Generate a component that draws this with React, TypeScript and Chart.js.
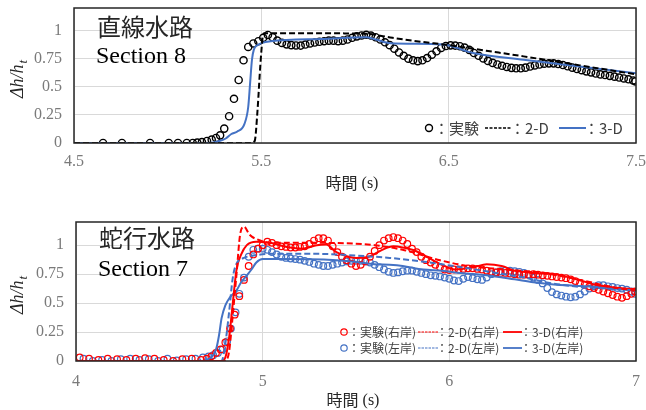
import React, { useEffect, useRef } from 'react';
import { Chart, registerables } from 'chart.js';
Chart.register(...registerables);

type P = [number, number];

// ---------- Top panel: 直線水路 Section 8 ----------
const topXTicks = [4.5, 5.5, 6.5, 7.5];
const yTicks = [0, 0.25, 0.5, 0.75, 1];

const topExperiment: P[] = [
  [4.655, 0], [4.756, 0], [4.906, 0], [5.006, 0], [5.055, 0], [5.102, 0], [5.134, 0], [5.158, 0.003], [5.183, 0.008],
  [5.21, 0.018], [5.235, 0.03], [5.258, 0.045], [5.28, 0.068], [5.302, 0.128], [5.328, 0.238], [5.354, 0.393],
  [5.379, 0.56], [5.405, 0.735], [5.43, 0.854], [5.457, 0.885], [5.484, 0.905], [5.51, 0.935], [5.535, 0.96],
  [5.56, 0.94], [5.585, 0.91], [5.61, 0.89], [5.635, 0.877], [5.66, 0.87], [5.685, 0.867], [5.71, 0.866],
  [5.735, 0.875], [5.76, 0.885], [5.785, 0.893], [5.81, 0.9], [5.835, 0.905], [5.86, 0.91], [5.885, 0.91],
  [5.91, 0.905], [5.935, 0.91], [5.96, 0.92], [5.985, 0.935], [6.01, 0.948], [6.035, 0.956], [6.06, 0.962],
  [6.085, 0.955], [6.11, 0.94], [6.135, 0.92], [6.16, 0.895], [6.185, 0.87], [6.21, 0.838], [6.235, 0.805],
  [6.26, 0.775], [6.285, 0.75], [6.31, 0.735], [6.335, 0.728], [6.36, 0.735], [6.385, 0.755], [6.41, 0.785],
  [6.435, 0.815], [6.46, 0.845], [6.485, 0.862], [6.51, 0.868], [6.535, 0.866], [6.56, 0.86], [6.585, 0.848],
  [6.61, 0.828], [6.635, 0.8], [6.66, 0.775], [6.685, 0.752], [6.71, 0.73], [6.735, 0.712], [6.76, 0.698],
  [6.785, 0.686], [6.81, 0.676], [6.835, 0.668], [6.86, 0.664], [6.885, 0.664], [6.91, 0.67], [6.935, 0.68],
  [6.96, 0.69], [6.985, 0.698], [7.01, 0.705], [7.035, 0.708], [7.06, 0.708], [7.085, 0.702], [7.11, 0.693],
  [7.135, 0.682], [7.16, 0.67], [7.185, 0.658], [7.21, 0.647], [7.235, 0.637], [7.26, 0.628], [7.285, 0.618],
  [7.31, 0.61], [7.335, 0.604], [7.36, 0.597], [7.385, 0.59], [7.41, 0.582], [7.435, 0.574], [7.46, 0.566],
  [7.485, 0.556], [7.497, 0.548],
];

const top2D: P[] = [
  [4.5, 0], [5.45, 0], [5.465, 0.02], [5.48, 0.3], [5.495, 0.7], [5.508, 0.95], [5.515, 0.975], [5.8, 0.975],
  [6.05, 0.972], [6.2, 0.935], [6.35, 0.9], [6.5, 0.87], [6.7, 0.82], [6.9, 0.77], [7.2, 0.69], [7.5, 0.61],
];

const top3D: P[] = [
  [4.5, 0], [5.22, 0], [5.28, 0.02], [5.31, 0.04], [5.34, 0.08], [5.37, 0.1], [5.41, 0.17], [5.43, 0.32],
  [5.44, 0.53], [5.45, 0.74], [5.46, 0.83], [5.48, 0.87], [5.55, 0.905], [5.82, 0.925], [6.06, 0.94],
  [6.11, 0.92], [6.19, 0.887], [6.47, 0.875], [6.63, 0.8], [6.9, 0.74], [7.2, 0.68], [7.5, 0.62],
];

// ---------- Bottom panel: 蛇行水路 Section 7 ----------
const bottomXTicks = [4, 5, 6, 7];

const expRight: P[] = [
  [4.02, 0.03], [4.07, 0.02], [4.12, 0.01], [4.17, 0.02], [4.22, 0.015], [4.27, 0.01], [4.32, 0.02], [4.37, 0.025],
  [4.42, 0.02], [4.47, 0.01], [4.52, 0.0], [4.57, 0.015], [4.62, 0.02], [4.67, 0.01], [4.7, 0.02], [4.725, 0.04],
  [4.75, 0.07], [4.775, 0.1], [4.8, 0.16], [4.825, 0.28], [4.85, 0.4], [4.875, 0.56], [4.9, 0.7], [4.925, 0.82],
  [4.95, 0.92], [4.975, 0.97], [5.0, 1.0], [5.025, 1.03], [5.05, 1.02], [5.075, 1.0], [5.1, 0.99], [5.125, 0.985],
  [5.15, 0.98], [5.175, 0.98], [5.2, 0.985], [5.225, 0.99], [5.25, 1.01], [5.275, 1.04], [5.3, 1.06], [5.325, 1.06],
  [5.35, 1.04], [5.375, 0.99], [5.4, 0.94], [5.425, 0.9], [5.45, 0.87], [5.475, 0.84], [5.5, 0.82], [5.525, 0.83],
  [5.55, 0.86], [5.575, 0.9], [5.6, 0.95], [5.625, 1.0], [5.65, 1.04], [5.675, 1.06], [5.7, 1.07], [5.725, 1.06],
  [5.75, 1.04], [5.775, 1.01], [5.8, 0.97], [5.825, 0.94], [5.85, 0.9], [5.875, 0.87], [5.9, 0.85], [5.925, 0.83],
  [5.95, 0.81], [5.975, 0.79], [6.0, 0.785], [6.025, 0.79], [6.05, 0.79], [6.075, 0.795], [6.1, 0.8], [6.125, 0.8],
  [6.15, 0.795], [6.175, 0.79], [6.2, 0.78], [6.225, 0.77], [6.25, 0.765], [6.275, 0.76], [6.3, 0.76], [6.325, 0.755],
  [6.35, 0.75], [6.375, 0.745], [6.4, 0.745], [6.425, 0.745], [6.45, 0.75], [6.475, 0.745], [6.5, 0.74], [6.525, 0.735],
  [6.55, 0.73], [6.575, 0.725], [6.6, 0.72], [6.625, 0.715], [6.65, 0.705], [6.675, 0.69], [6.7, 0.675], [6.725, 0.66],
  [6.75, 0.645], [6.775, 0.63], [6.8, 0.615], [6.825, 0.6], [6.85, 0.585], [6.875, 0.57], [6.9, 0.555], [6.925, 0.545],
  [6.95, 0.56], [6.975, 0.58], [6.995, 0.6],
];

const expLeft: P[] = [
  [4.04, 0.02], [4.09, 0.0], [4.14, 0.01], [4.19, 0.0], [4.24, 0.015], [4.29, 0.02], [4.34, 0.01], [4.39, 0.015],
  [4.44, 0.0], [4.49, 0.02], [4.54, 0.005], [4.59, 0.015], [4.64, 0.02], [4.68, 0.03], [4.71, 0.04], [4.735, 0.05],
  [4.76, 0.07], [4.785, 0.1], [4.81, 0.17], [4.83, 0.28], [4.855, 0.42], [4.875, 0.58], [4.9, 0.72], [4.925, 0.9],
  [4.95, 0.96], [4.975, 0.97], [5.0, 0.97], [5.025, 0.96], [5.05, 0.94], [5.075, 0.92], [5.1, 0.9], [5.125, 0.89],
  [5.15, 0.885], [5.175, 0.88], [5.2, 0.875], [5.225, 0.865], [5.25, 0.855], [5.275, 0.84], [5.3, 0.83], [5.325, 0.82],
  [5.35, 0.82], [5.375, 0.83], [5.4, 0.84], [5.425, 0.85], [5.45, 0.86], [5.475, 0.865], [5.5, 0.865], [5.525, 0.865],
  [5.55, 0.86], [5.575, 0.85], [5.6, 0.83], [5.625, 0.81], [5.65, 0.79], [5.675, 0.77], [5.7, 0.76], [5.725, 0.765],
  [5.75, 0.775], [5.775, 0.78], [5.8, 0.78], [5.825, 0.77], [5.85, 0.76], [5.875, 0.75], [5.9, 0.74], [5.925, 0.735],
  [5.95, 0.73], [5.975, 0.72], [6.0, 0.71], [6.025, 0.695], [6.05, 0.69], [6.075, 0.71], [6.1, 0.725], [6.125, 0.715],
  [6.15, 0.705], [6.175, 0.7], [6.2, 0.72], [6.225, 0.75], [6.25, 0.765], [6.275, 0.775], [6.3, 0.78], [6.325, 0.78],
  [6.35, 0.775], [6.375, 0.77], [6.4, 0.76], [6.425, 0.745], [6.45, 0.72], [6.475, 0.7], [6.5, 0.67], [6.525, 0.63],
  [6.55, 0.595], [6.575, 0.575], [6.6, 0.565], [6.625, 0.555], [6.65, 0.55], [6.675, 0.555], [6.7, 0.575], [6.725, 0.6],
  [6.75, 0.625], [6.775, 0.645], [6.8, 0.655], [6.825, 0.655], [6.85, 0.645], [6.875, 0.64], [6.9, 0.63], [6.925, 0.625],
  [6.95, 0.615], [6.975, 0.6], [6.995, 0.58],
];

const right2D: P[] = [
  [4.0, 0], [4.8, 0], [4.82, 0.08], [4.84, 0.4], [4.86, 0.75], [4.88, 1.1], [4.9, 1.16], [4.93, 1.09], [4.97, 1.05],
  [5.05, 1.02], [5.3, 1.02], [5.6, 1.0], [5.75, 0.96], [5.95, 0.87], [6.1, 0.82], [6.3, 0.79], [6.5, 0.76],
  [6.7, 0.7], [6.9, 0.63], [7.0, 0.61],
];

const left2D: P[] = [
  [4.0, 0], [4.78, 0], [4.8, 0.15], [4.82, 0.42], [4.84, 0.72], [4.86, 0.84], [4.9, 0.89], [4.95, 0.91],
  [5.05, 0.925], [5.3, 0.925], [5.5, 0.91], [5.68, 0.89], [5.85, 0.86], [5.96, 0.835], [6.1, 0.8], [6.25, 0.76],
  [6.4, 0.72], [6.55, 0.67], [6.7, 0.64], [6.85, 0.625], [7.0, 0.61],
];

const right3D: P[] = [
  [4.0, 0], [4.78, 0], [4.8, 0.03], [4.82, 0.2], [4.84, 0.5], [4.86, 0.79], [4.885, 0.92], [4.915, 1.0],
  [4.965, 1.03], [5.04, 1.02], [5.13, 0.985], [5.215, 0.97], [5.29, 1.0], [5.34, 1.005], [5.395, 0.94],
  [5.45, 0.905], [5.5, 0.89], [5.57, 0.9], [5.64, 0.96], [5.7, 0.99], [5.75, 0.98], [5.82, 0.95], [5.89, 0.89],
  [5.96, 0.83], [6.03, 0.79], [6.13, 0.81], [6.2, 0.835], [6.28, 0.82], [6.35, 0.78], [6.45, 0.76], [6.56, 0.75],
  [6.67, 0.71], [6.78, 0.66], [6.88, 0.635], [7.0, 0.62],
];

const left3D: P[] = [
  [4.0, 0], [4.68, 0], [4.7, 0.01], [4.735, 0.05], [4.752, 0.11], [4.766, 0.22], [4.78, 0.37], [4.8, 0.48],
  [4.825, 0.55], [4.86, 0.61], [4.885, 0.68], [4.913, 0.735], [4.94, 0.79], [4.966, 0.85], [5.0, 0.88],
  [5.1, 0.88], [5.35, 0.875], [5.5, 0.855], [5.6, 0.835], [5.68, 0.83], [5.75, 0.82], [5.86, 0.79], [5.96, 0.78],
  [6.06, 0.76], [6.2, 0.74], [6.35, 0.705], [6.45, 0.68], [6.56, 0.66], [6.67, 0.65], [6.78, 0.64], [6.88, 0.625],
  [7.0, 0.61],
];

// ---------- styling ----------
const CJK = '"Noto Sans CJK JP", "Noto Sans", sans-serif';
const SERIF = '"Liberation Serif", "Times New Roman", serif';
const RED = '#ff0000';
const BLUE = '#4472c4';
const TICK_COLOR = '#7a7a7a';
const TEXT_COLOR = '#404040';

const toXY = (d: P[]) => d.map(([x, y]) => ({ x, y }));

function circleSet(data: P[], color: string, r: number, bw: number) {
  return {
    data: toXY(data), showLine: false, pointStyle: 'circle', pointRadius: r, pointBorderWidth: bw,
    pointBorderColor: color, pointBackgroundColor: 'rgba(0,0,0,0)', borderColor: color, order: 2,
  };
}
function lineSet(data: P[], color: string, dash: number[], width: number) {
  return {
    data: toXY(data), showLine: true, pointRadius: 0, borderColor: color, borderWidth: width,
    borderDash: dash, cubicInterpolationMode: 'monotone', fill: false, order: 1,
  };
}

function drawLegendLine(ctx: CanvasRenderingContext2D, x1: number, x2: number, y: number, color: string, dash: number[], w: number) {
  ctx.save();
  ctx.strokeStyle = color; ctx.lineWidth = w; ctx.setLineDash(dash);
  ctx.beginPath(); ctx.moveTo(x1, y); ctx.lineTo(x2, y); ctx.stroke();
  ctx.restore();
}
function drawLegendCircle(ctx: CanvasRenderingContext2D, x: number, y: number, r: number, color: string, w: number) {
  ctx.save();
  ctx.strokeStyle = color; ctx.lineWidth = w;
  ctx.beginPath(); ctx.arc(x, y, r, 0, Math.PI * 2); ctx.stroke();
  ctx.restore();
}
function drawText(ctx: CanvasRenderingContext2D, t: string, x: number, y: number, font: string, color: string, align: CanvasTextAlign = 'left') {
  ctx.save();
  ctx.font = font; ctx.fillStyle = color; ctx.textAlign = align; ctx.textBaseline = 'middle';
  ctx.fillText(t, x, y);
  ctx.restore();
}

function drawCommon(chart: any, title: string, section: string, titleY: number, sectionY: number, xTitleY: number) {
  const ctx: CanvasRenderingContext2D = chart.ctx;
  const a = chart.chartArea;
  // plot border
  ctx.save();
  ctx.strokeStyle = '#262626'; ctx.lineWidth = 1.5;
  ctx.strokeRect(a.left, a.top, a.right - a.left, a.bottom - a.top);
  ctx.restore();
  // annotations
  drawText(ctx, title, a.left + 23, titleY, `24px ${CJK}`, '#262626');
  drawText(ctx, section, a.left + 22, sectionY, `24px ${SERIF}`, '#000000');
  // x title
  ctx.save();
  ctx.textBaseline = 'middle';
  ctx.font = `16px ${CJK}`;
  const w1 = ctx.measureText('時間').width;
  ctx.font = `16px ${SERIF}`;
  const w2 = ctx.measureText(' (s)').width;
  const cx = (a.left + a.right) / 2 - 3;
  const sx = cx - (w1 + w2) / 2;
  ctx.fillStyle = '#262626';
  ctx.font = `16px ${CJK}`; ctx.fillText('時間', sx, xTitleY);
  ctx.font = `16px ${SERIF}`; ctx.fillText(' (s)', sx + w1, xTitleY + 1);
  ctx.restore();
  // y title: Δh/h_t rotated
  ctx.save();
  const cy = (a.top + a.bottom) / 2 + 4;
  ctx.translate(17, cy);
  ctx.rotate(-Math.PI / 2);
  ctx.fillStyle = '#262626';
  ctx.textBaseline = 'alphabetic';
  ctx.font = `italic 18px ${SERIF}`;
  const main = 'Δh/h';
  const mw = ctx.measureText(main).width;
  ctx.font = `italic 13px ${SERIF}`;
  const sw = ctx.measureText('t').width;
  const start = -(mw + sw) / 2;
  ctx.font = `italic 18px ${SERIF}`;
  ctx.fillText(main, start, 6);
  ctx.font = `italic 13px ${SERIF}`;
  ctx.fillText('t', start + mw + 1, 10);
  ctx.restore();
}

function scaleOpts(min: number, max: number, ticks: number[], opts: { axisSize: number; tickPad: number; horizontal: boolean }) {
  return {
    type: 'linear', min, max,
    afterBuildTicks: (s: any) => { s.ticks = ticks.map((v) => ({ value: v })); },
    afterFit: (s: any) => {
      if (opts.horizontal) { s.height = opts.axisSize; s.paddingLeft = 0; s.paddingRight = 0; }
      else { s.width = opts.axisSize; s.paddingTop = 0; s.paddingBottom = 0; }
    },
    grid: { color: '#d9d9d9', lineWidth: 1, drawTicks: false },
    border: { display: false },
    ticks: {
      padding: opts.tickPad, color: TICK_COLOR, font: { family: SERIF, size: 16 },
      autoSkip: false, maxRotation: 0, callback: (v: any) => String(v),
    },
  };
}

function TopChart() {
  const ref = useRef<HTMLCanvasElement>(null);
  useEffect(() => {
    const overlay = {
      id: 'topOverlay',
      afterDraw(chart: any) {
        drawCommon(chart, '直線水路', 'Section 8', 27, 57, 183);
        const ctx = chart.ctx;
        const y = 128;
        drawLegendCircle(ctx, 429, y, 3.5, '#000', 1.4);
        drawText(ctx, '：実験', 434, y, `15px ${CJK}`, TEXT_COLOR);
        drawLegendLine(ctx, 485, 511, y, '#000', [3, 1.5], 1.5);
        drawText(ctx, '：2-D', 510, y, `15px ${CJK}`, TEXT_COLOR);
        drawLegendLine(ctx, 559, 586, y, BLUE, [], 2);
        drawText(ctx, '：3-D', 584, y, `15px ${CJK}`, TEXT_COLOR);
      },
    };
    const chart = new Chart(ref.current as HTMLCanvasElement, {
      type: 'scatter',
      data: {
        datasets: [
          circleSet(topExperiment, '#000000', 3.6, 1.4),
          lineSet(top2D, '#000000', [6, 3], 2),
          lineSet(top3D, BLUE, [], 2),
        ] as any,
      },
      options: {
        animation: false, responsive: false, maintainAspectRatio: false,
        layout: { padding: { left: 0, right: 10, top: 8, bottom: 0 } },
        plugins: { legend: { display: false }, tooltip: { enabled: false } },
        scales: {
          x: scaleOpts(4.5, 7.5, topXTicks, { axisSize: 57, tickPad: 9, horizontal: true }),
          y: scaleOpts(0, 1.2, yTicks, { axisSize: 74, tickPad: 12, horizontal: false }),
        } as any,
      },
      plugins: [overlay],
    });
    return () => chart.destroy();
  }, []);
  return <canvas ref={ref} width={646} height={200} style={{ display: 'block', width: 646, height: 200 }} />;
}

function BottomChart() {
  const ref = useRef<HTMLCanvasElement>(null);
  useEffect(() => {
    const overlay = {
      id: 'bottomOverlay',
      afterDraw(chart: any) {
        drawCommon(chart, '蛇行水路', 'Section 7', 28, 60, 190);
        const ctx = chart.ctx;
        const rows: [number, string, string][] = [[122, RED, '右岸'], [138, BLUE, '左岸']];
        for (const [y, c, s] of rows) {
          drawLegendCircle(ctx, 344, y, 3.2, c, 1.2);
          drawText(ctx, `：実験(${s})`, 348, y, `12px ${CJK}`, TEXT_COLOR);
          drawLegendLine(ctx, 418, 438, y, c, [2.5, 1], 1.2);
          drawText(ctx, `：2-D(${s})`, 436, y, `12px ${CJK}`, TEXT_COLOR);
          drawLegendLine(ctx, 503, 522, y, c, [], 1.8);
          drawText(ctx, `：3-D(${s})`, 520, y, `12px ${CJK}`, TEXT_COLOR);
        }
      },
    };
    const chart = new Chart(ref.current as HTMLCanvasElement, {
      type: 'scatter',
      data: {
        datasets: [
          circleSet(expRight, RED, 3.3, 1.2),
          circleSet(expLeft, BLUE, 3.3, 1.2),
          lineSet(right2D, RED, [6, 3], 2),
          lineSet(left2D, BLUE, [6, 3], 2),
          lineSet(right3D, RED, [], 2),
          lineSet(left3D, BLUE, [], 2),
        ] as any,
      },
      options: {
        animation: false, responsive: false, maintainAspectRatio: false,
        layout: { padding: { left: 0, right: 10, top: 12, bottom: 0 } },
        plugins: { legend: { display: false }, tooltip: { enabled: false } },
        scales: {
          x: scaleOpts(4, 7, bottomXTicks, { axisSize: 49, tickPad: 11, horizontal: true }),
          y: scaleOpts(0, 1.2, yTicks, { axisSize: 76, tickPad: 12, horizontal: false }),
        } as any,
      },
      plugins: [overlay],
    });
    return () => chart.destroy();
  }, []);
  return <canvas ref={ref} width={646} height={200} style={{ display: 'block', width: 646, height: 200 }} />;
}

export default function App() {
  return (
    <div style={{ position: 'fixed', left: 0, top: 0, width: 646, height: 410, background: '#fff' }}>
      <TopChart />
      <div style={{ height: 10 }} />
      <BottomChart />
    </div>
  );
}
